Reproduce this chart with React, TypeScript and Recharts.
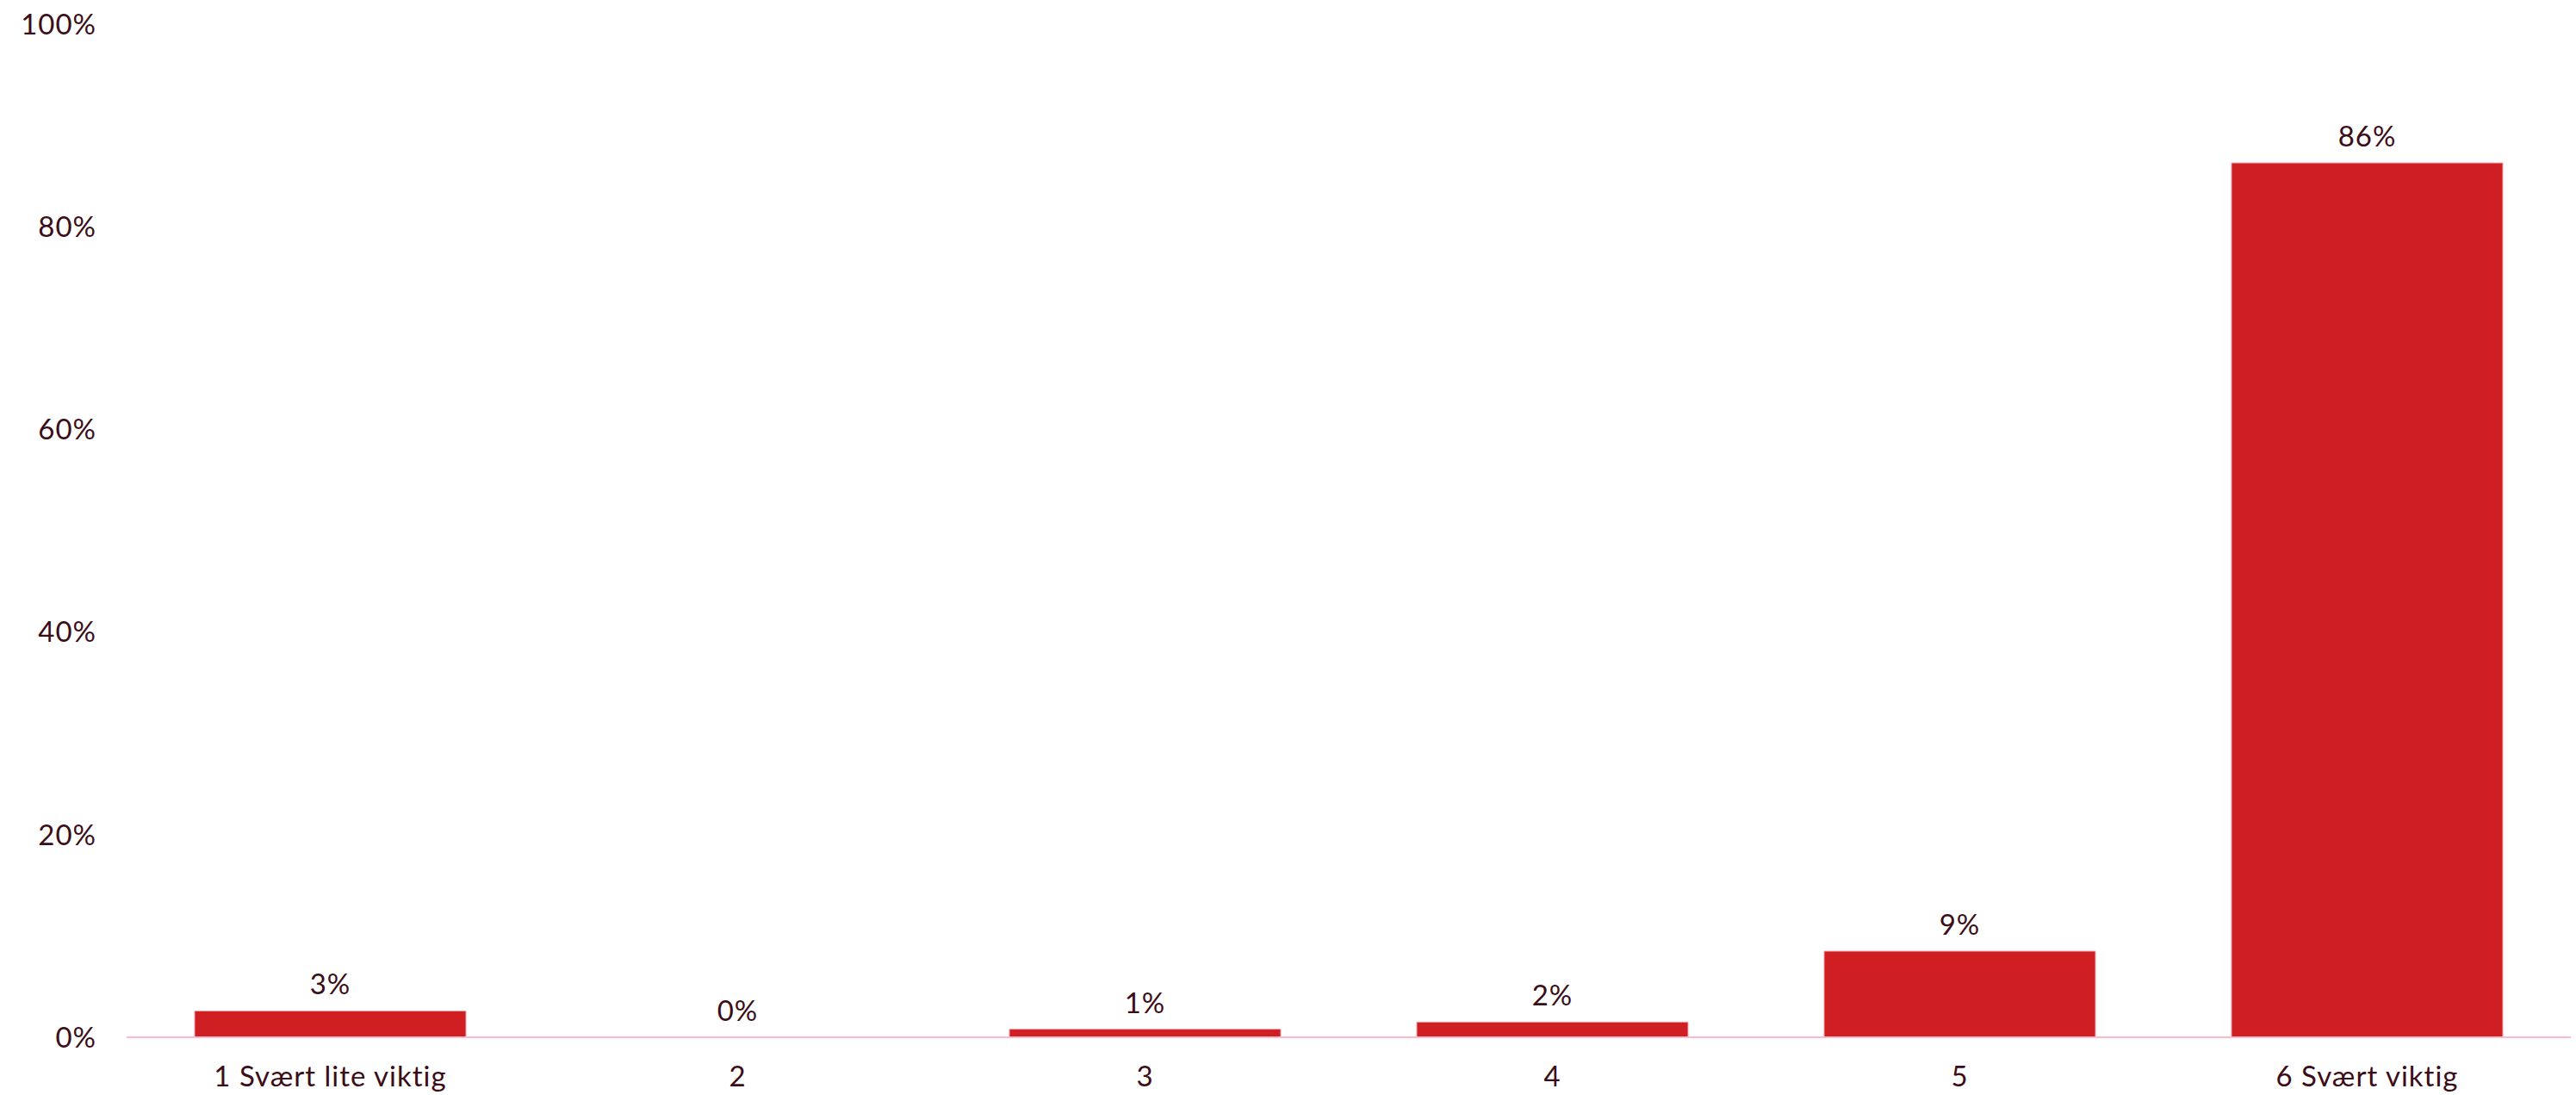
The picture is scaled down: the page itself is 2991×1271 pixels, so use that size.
import React from 'react';
import { BarChart, Bar, XAxis, YAxis, LabelList } from 'recharts';

const categories = ['1 Svært lite viktig', '2', '3', '4', '5', '6 Svært viktig'];
const shares = [2.6, 0, 0.8, 1.5, 8.5, 86.3];
const yTicks = [0, 20, 40, 60, 80, 100];

const data = categories.map((c, i) => ({ name: c, value: shares[i] }));

const FONT = 'Lato, "Open Sans", sans-serif';
const TEXT = '#3b0d18';

const renderValueLabel = (props: any) => {
  const { x, y, width, value } = props;
  const cx = Number(x) + Number(width) / 2;
  return (
    <text
      x={cx}
      y={Number(y) - 19}
      textAnchor="middle"
      fill={TEXT}
      fontSize={33}
      fontFamily={FONT}
      letterSpacing={1}
    >
      {`${Math.round(Number(value))}%`}
    </text>
  );
};

export default function App() {
  return (
    <div style={{ position: 'absolute', left: 0, top: 0, background: '#fff' }}>
      <BarChart
        width={2991}
        height={1271}
        data={data}
        margin={{ top: 28, right: 6, bottom: 0, left: 0 }}
      >
        <XAxis
          dataKey="name"
          height={67}
          tickLine={false}
          tickSize={0}
          tickMargin={34}
          axisLine={{ stroke: '#ffb8cc', strokeWidth: 2 }}
          tick={{ fill: TEXT, fontSize: 33, fontFamily: FONT, letterSpacing: 1 }}
        />
        <YAxis
          width={147}
          domain={[0, 100]}
          ticks={yTicks}
          interval={0}
          axisLine={false}
          tickLine={false}
          tickSize={0}
          tickMargin={35}
          tickFormatter={(v: number) => `${v}%`}
          tick={{ fill: TEXT, fontSize: 33, fontFamily: FONT, letterSpacing: 1 }}
        />
        <Bar
          dataKey="value"
          fill="#d01f23"
          stroke="#f2a3ab"
          strokeWidth={1}
          barSize={315}
          minPointSize={0.01}
          isAnimationActive={false}
        >
          <LabelList dataKey="value" content={renderValueLabel} />
        </Bar>
      </BarChart>
    </div>
  );
}
